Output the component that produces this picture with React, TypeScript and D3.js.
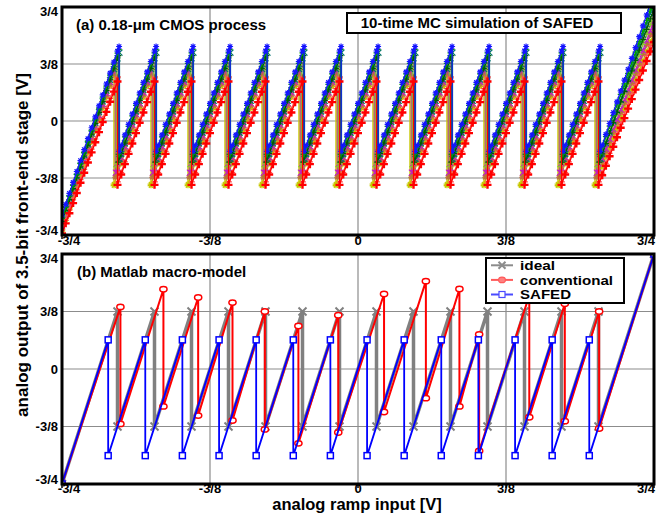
import React from "react";
import * as d3 from "d3";

const W = 667;
const H = 516;

// axis ticks
const tickValues = [-0.75, -0.375, 0, 0.375, 0.75];
const tickLabels = ["-3/4", "-3/8", "0", "3/8", "3/4"];

// ideal comparator thresholds (input, V)
const thresholds = [
  -0.609375, -0.515625, -0.421875, -0.328125, -0.234375, -0.140625, -0.046875,
  0.046875, 0.140625, 0.234375, 0.328125, 0.421875, 0.515625, 0.609375,
];
const idealPeak = 0.375;
const idealTrough = -0.375;
const rampStartValue = -0.75;
const rampEndValue = 0.75;

// conventional (red) transition inputs, peaks and troughs
const convX = [-0.602, -0.493, -0.405, -0.318, -0.236, -0.151, -0.05, 0.066, 0.172, 0.257, 0.307, 0.434, 0.524, 0.611];
const convPeak = [0.405, 0.52, 0.466, 0.433, 0.375, 0.28, 0.351, 0.489, 0.573, 0.522, 0.226, 0.48, 0.425, 0.375];
const convTrough = [-0.358, -0.244, -0.304, -0.336, -0.394, -0.485, -0.414, -0.28, -0.19, -0.244, -0.535, -0.315, -0.34, -0.388];

// SAFED (blue) transition inputs
const safedX = [-0.633, -0.539, -0.445, -0.352, -0.258, -0.164, -0.07, 0.023, 0.117, 0.211, 0.305, 0.398, 0.492, 0.586];
const safedPeak = 0.19;
const safedTrough = -0.565;

// 10-time Monte Carlo runs (top panel)
const mcColors = ["#1414ff", "#00a000", "#007070", "#005c00", "#8cc030", "#c020c0", "#b87038", "#c8c800", "#ff5050", "#ff0000"];
const mcMarkers = ["asterisk", "plus", "x", "plus", "plus", "x", "asterisk", "star", "plus", "bigplus"];
const mcPeak = [0.49, 0.47, 0.45, 0.43, 0.4, 0.37, 0.34, 0.31, 0.29, 0.26];
const mcTrough = [-0.2, -0.22, -0.25, -0.27, -0.3, -0.34, -0.37, -0.42, -0.4, -0.42];
const mcShift = [0.004, 0.003, 0.005, 0.002, -0.003, -0.004, -0.006, -0.009, 0.001, 0.0];
const mcStart = [-0.62, -0.64, -0.65, -0.66, -0.68, -0.69, -0.7, -0.72, -0.72, -0.74];
const mcEnd = [0.84, 0.8, 0.78, 0.74, 0.7, 0.66, 0.63, 0.58, 0.56, 0.52];
const mcDrawOrder = [7, 6, 5, 4, 8, 2, 3, 1, 0, 9];
const sweepStep = 3 / 320;

// legend
const legendLabels = ["ideal", "conventional", "SAFED"];
const legendWidths = [35, 93, 51];

const x = d3.scaleLinear().domain([-0.75, 0.75]).range([62, 654]);
const yTop = d3.scaleLinear().domain([-0.75, 0.75]).range([235, 7]);
const yBot = d3.scaleLinear().domain([-0.75, 0.75]).range([484, 254]);

type Pt = [number, number];

function sawVertices(xs: number[], peaks: number[], troughs: number[], y0: number, y1: number): Pt[] {
  const v: Pt[] = [[-0.75, y0]];
  xs.forEach((xx, i) => {
    v.push([xx, peaks[i]]);
    v.push([xx, troughs[i]]);
  });
  v.push([0.75, y1]);
  return v;
}

function valueAt(v: Pt[], xx: number): number {
  for (let j = 0; j < v.length - 1; j++) {
    const a = v[j], b = v[j + 1];
    if (b[0] > a[0] && xx >= a[0] && xx <= b[0]) {
      return a[1] + ((xx - a[0]) / (b[0] - a[0])) * (b[1] - a[1]);
    }
  }
  return v[v.length - 1][1];
}

function markerPath(kind: string, px: number, py: number): string {
  const s = 3;
  if (kind === "plus") return `M${px - s},${py}h${2 * s}M${px},${py - s}v${2 * s}`;
  if (kind === "bigplus") return `M${px - 4},${py}h8M${px},${py - 4}v8`;
  if (kind === "x") return `M${px - s},${py - s}l${2 * s},${2 * s}M${px - s},${py + s}l${2 * s},${-2 * s}`;
  if (kind === "asterisk")
    return `M${px - s},${py}h${2 * s}M${px},${py - s}v${2 * s}M${px - 2.2},${py - 2.2}l4.4,4.4M${px - 2.2},${py + 2.2}l4.4,-4.4`;
  // star
  return `M${px},${py - 3.5}v7M${px - 3.3},${py - 1}l6.6,2M${px - 3.3},${py + 1}l6.6,-2M${px - 2},${py + 3}l4,-6M${px - 2},${py - 3}l4,6`;
}

const font = "'Liberation Sans', Arial, Helvetica, sans-serif";

function Grid({ y }: { y: d3.ScaleLinear<number, number> }) {
  const inner = tickValues.slice(1, -1);
  return (
    <g>
      {inner.map((t, i) => (
        <line key={"v" + i} x1={x(t)} x2={x(t)} y1={y(-0.75)} y2={y(0.75)} stroke="#8c8c8c" strokeWidth={1.2} />
      ))}
      {inner.map((t, i) => (
        <line key={"h" + i} x1={x(-0.75)} x2={x(0.75)} y1={y(t)} y2={y(t)} stroke="#8c8c8c" strokeWidth={1.2} />
      ))}
    </g>
  );
}

function Axes({ y, labelY }: { y: d3.ScaleLinear<number, number>; labelY: number }) {
  const xdx = [7, 0, 0, 0, -8];
  const ydy = [-5, 0, 0, 0, 4];
  return (
    <g fontFamily={font} fontWeight="bold" fontSize={13} fill="#000">
      {tickValues.map((t, i) => (
        <line key={"t" + i} x1={x(t)} x2={x(t)} y1={y(-0.75)} y2={y(-0.75) + 4} stroke="#000" strokeWidth={1.5} />
      ))}
      {tickValues.map((t, i) => (
        <text key={"xl" + i} x={x(t) + xdx[i]} y={labelY} textAnchor="middle">
          {tickLabels[i]}
        </text>
      ))}
      {tickValues.map((t, i) => (
        <text key={"yl" + i} x={58} y={y(t) + ydy[i]} dy="0.36em" textAnchor="end">
          {tickLabels[i]}
        </text>
      ))}
      <rect
        x={x(-0.75)}
        y={y(0.75)}
        width={x(0.75) - x(-0.75)}
        height={y(-0.75) - y(0.75)}
        fill="none"
        stroke="#000"
        strokeWidth={3}
      />
    </g>
  );
}

export default function App() {
  const lineTop = d3.line<Pt>().x((d) => x(d[0])).y((d) => yTop(d[1]));
  const lineBot = d3.line<Pt>().x((d) => x(d[0])).y((d) => yBot(d[1]));

  const runs = mcDrawOrder.map((r) => {
    const xs = thresholds.map((t) => t + mcShift[r]);
    const verts = sawVertices(xs, thresholds.map(() => mcPeak[r]), thresholds.map(() => mcTrough[r]), mcStart[r], mcEnd[r]);
    const samples = d3.range(0, 161).map((i) => -0.75 + i * sweepStep);
    let mk = "";
    samples.forEach((sx) => {
      mk += markerPath(mcMarkers[r], x(sx), yTop(valueAt(verts, sx)));
    });
    verts.forEach((p) => {
      mk += markerPath(mcMarkers[r], x(p[0]), yTop(p[1]));
    });
    return { r, path: lineTop(verts) || "", mk };
  });

  const idealV = sawVertices(thresholds, thresholds.map(() => idealPeak), thresholds.map(() => idealTrough), rampStartValue, rampEndValue);
  const convV = sawVertices(convX, convPeak, convTrough, rampStartValue, rampEndValue);
  const safedV = sawVertices(safedX, safedX.map(() => safedPeak), safedX.map(() => safedTrough), rampStartValue, rampEndValue);

  const xMark = (px: number, py: number, s: number) => `M${px - s},${py - s}l${2 * s},${2 * s}M${px - s},${py + s}l${2 * s},${-2 * s}`;

  const rowY = [265.3, 279.9, 294.5];

  return (
    <svg width={W} height={H} style={{ display: "block", position: "absolute", left: 0, top: 0, background: "#fff" }}>
      <defs>
        <clipPath id="clipTop">
          <rect x={x(-0.75)} y={yTop(0.75)} width={x(0.75) - x(-0.75)} height={yTop(-0.75) - yTop(0.75)} />
        </clipPath>
        <clipPath id="clipBot">
          <rect x={x(-0.75)} y={yBot(0.75)} width={x(0.75) - x(-0.75)} height={yBot(-0.75) - yBot(0.75)} />
        </clipPath>
      </defs>
      <rect width={W} height={H} fill="#fff" />

      {/* ---------- top panel ---------- */}
      <Grid y={yTop} />
      <g clipPath="url(#clipTop)">
        {runs.map((d) => (
          <g key={d.r}>
            <path d={d.path} fill="none" stroke={mcColors[d.r]} strokeWidth={1.3} />
            <path d={d.mk} fill="none" stroke={mcColors[d.r]} strokeWidth={d.r === 9 ? 2.4 : 1.2} />
          </g>
        ))}
      </g>
      <Axes y={yTop} labelY={245} />
      <text x={76} y={25} dy="0.36em" fontFamily={font} fontWeight="bold" fontSize={15}>
        (a) 0.18-μm CMOS process
      </text>
      <rect x={347} y={13} width={274} height={20} fill="#fff" stroke="#000" strokeWidth={2} />
      <text x={477} y={23} dy="0.36em" textAnchor="middle" fontFamily={font} fontWeight="bold" fontSize={15}>
        10-time MC simulation of SAFED
      </text>

      {/* ---------- bottom panel ---------- */}
      <Grid y={yBot} />
      <g clipPath="url(#clipBot)">
        <path d={lineBot(idealV) || ""} fill="none" stroke="#808080" strokeWidth={3.5} />
        <path
          d={idealV.map((p) => xMark(x(p[0]), yBot(p[1]), 4)).join("")}
          fill="none"
          stroke="#808080"
          strokeWidth={2}
        />
        <path d={lineBot(convV) || ""} fill="none" stroke="#ff0000" strokeWidth={2} />
        {convV.map((p, i) => (
          <ellipse key={"c" + i} cx={x(p[0])} cy={yBot(p[1])} rx={3.6} ry={2.7} fill="#fff" stroke="#ff0000" strokeWidth={1.5} />
        ))}
        <path d={lineBot(safedV) || ""} fill="none" stroke="#0000ff" strokeWidth={1.8} />
        {safedV.map((p, i) => (
          <rect key={"s" + i} x={x(p[0]) - 3} y={yBot(p[1]) - 3} width={6} height={6} fill="#fff" stroke="#0000ff" strokeWidth={1.5} />
        ))}
      </g>
      <Axes y={yBot} labelY={492.5} />
      <text x={77} y={272} dy="0.36em" fontFamily={font} fontWeight="bold" fontSize={15}>
        (b) Matlab macro-model
      </text>

      {/* legend */}
      <g fontFamily={font} fontWeight="bold" fontSize={13}>
        <rect x={486} y={258} width={138} height={45} fill="#fff" stroke="#000" strokeWidth={2} />
        <line x1={491} x2={513} y1={rowY[0]} y2={rowY[0]} stroke="#8c8c8c" strokeWidth={2} />
        <path d={xMark(502, rowY[0], 3.5)} stroke="#8c8c8c" strokeWidth={2} fill="none" />
        <line x1={491} x2={513} y1={rowY[1]} y2={rowY[1]} stroke="#ff5a5a" strokeWidth={2} />
        <ellipse cx={502} cy={rowY[1]} rx={3.4} ry={2.8} fill="#ff8080" stroke="#ff5a5a" strokeWidth={1.2} />
        <line x1={491} x2={513} y1={rowY[2]} y2={rowY[2]} stroke="#4a4aff" strokeWidth={2} />
        <rect x={499} y={rowY[2] - 3} width={6} height={6} fill="#fff" stroke="#4a4aff" strokeWidth={1.2} />
        {legendLabels.map((l, i) => (
          <text key={l} x={520} y={rowY[i]} dy="0.36em" textLength={legendWidths[i]} lengthAdjust="spacingAndGlyphs">
            {l}
          </text>
        ))}
      </g>

      {/* axis titles */}
      <text
        transform="translate(22,245) rotate(-90)"
        dy="0.36em"
        textAnchor="middle"
        fontFamily={font}
        fontWeight="bold"
        fontSize={17}
      >
        analog output of 3.5-bit front-end stage [V]
      </text>
      <text x={357} y={509.5} textAnchor="middle" fontFamily={font} fontWeight="bold" fontSize={16.5}>
        analog ramp input [V]
      </text>
    </svg>
  );
}
